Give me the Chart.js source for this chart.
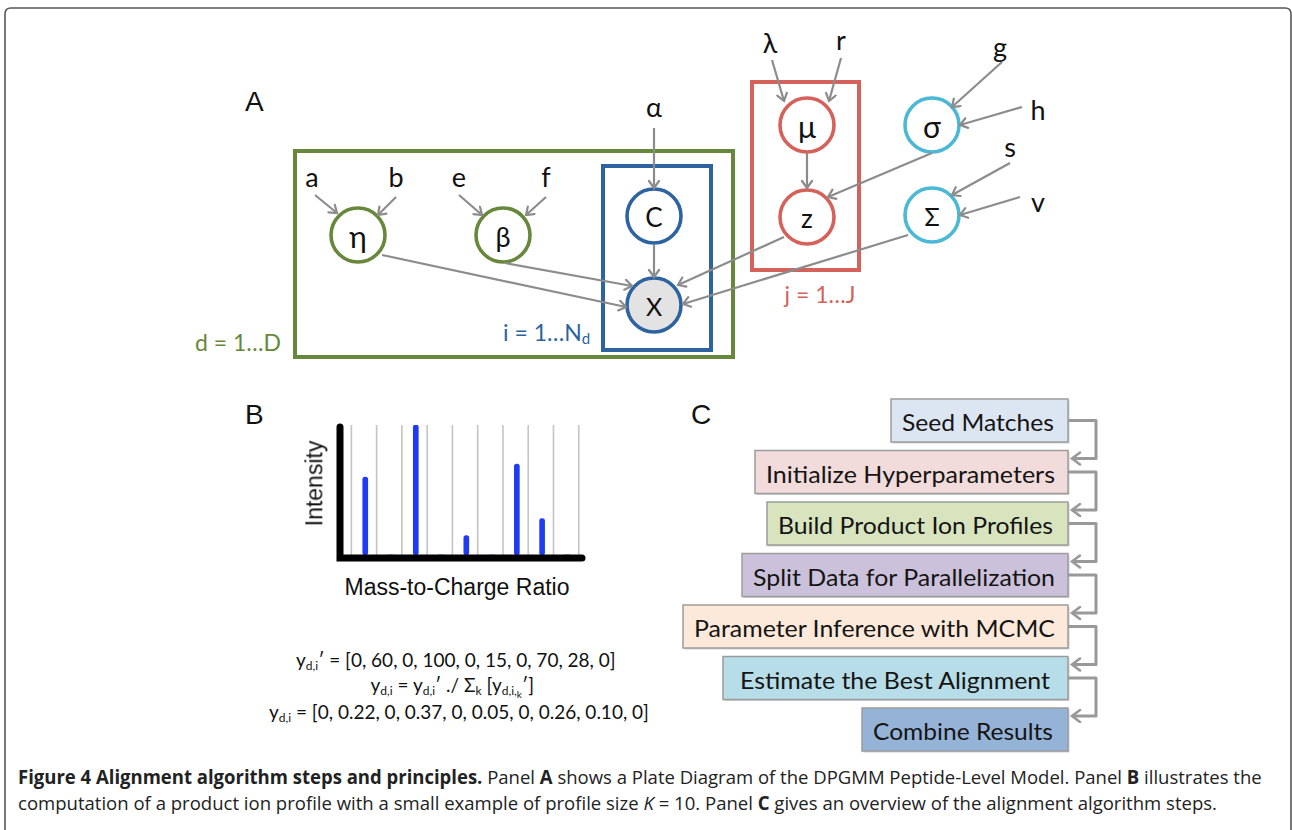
<!DOCTYPE html>
<html>
<head>
<meta charset="utf-8">
<title>Figure 4</title>
<script src="https://cdn.jsdelivr.net/npm/chart.js@4.4.0/dist/chart.umd.min.js"></script>
<style>
  html, body { margin: 0; padding: 0; background: #fff; }
  #page { position: relative; width: 1292px; height: 830px; overflow: hidden; background: #fff; }
  #diagram { position: absolute; left: 0; top: 0; }
  #profileChart { position: absolute; left: 290px; top: 400px; }
  .abs { position: absolute; white-space: nowrap; }
  .panel { font-family: "Liberation Sans", Arial, sans-serif; font-size: 28px; color: #111; }
  .axisTitle { font-family: "Liberation Sans", Arial, sans-serif; font-size: 23px; color: #111; }
  .eq { font-family: Lato, "Open Sans", sans-serif; font-size: 19px; color: #111; }
  .eq sub { font-size: 12px; vertical-align: -3px; }
  .eq sub sub { font-size: 10px; vertical-align: -3px; }
  .cap { font-family: "Open Sans", "Noto Sans", sans-serif; font-size: 19px; color: #222; transform-origin: left center; left: 18px; }
</style>
</head>
<body>
<div id="page">
  <svg id="diagram" width="1292" height="830"></svg>

  <div class="abs panel" style="left:245px; top:86px;">A</div>
  <div class="abs panel" style="left:245px; top:399px;">B</div>
  <div class="abs panel" style="left:691px; top:399px;">C</div>

  <canvas id="profileChart" width="310" height="170"></canvas>
  <div class="abs axisTitle" id="yTitle">Intensity</div>
  <div class="abs axisTitle" id="xTitle">Mass-to-Charge Ratio</div>

  <div class="abs eq" id="eq1"></div>
  <div class="abs eq" id="eq2"></div>
  <div class="abs eq" id="eq3"></div>

  <div class="abs cap" id="cap1" style="top:764px;"><b>Figure 4 Alignment algorithm steps and principles.</b> Panel <b>A</b> shows a Plate Diagram of the DPGMM Peptide-Level Model. Panel <b>B</b> illustrates the</div>
  <div class="abs cap" id="cap2" style="top:790px;">computation of a product ion profile with a small example of profile size <i>K</i> = 10. Panel <b>C</b> gives an overview of the alignment algorithm steps.</div>
</div>

<script>
// panel B data (profile bins k = 1..10)
const bins = ['1', '2', '3', '4', '5', '6', '7', '8', '9', '10'];
const rawIntensity = [0, 60, 0, 100, 0, 15, 0, 70, 28, 0];
const normIntensity = ['0', '0.22', '0', '0.37', '0', '0.05', '0', '0.26', '0.10', '0'];

// panel C steps
const steps = [
    'Seed Matches',
    'Initialize Hyperparameters',
    'Build Product Ion Profiles',
    'Split Data for Parallelization',
    'Parameter Inference with MCMC',
    'Estimate the Best Alignment',
    'Combine Results'
];
const stepColors = ['#dce6f2', '#f2dcdb', '#d7e4bd', '#ccc1da', '#fde9d9', '#b7dee8', '#95b3d7'];

const SVGNS = 'http://www.w3.org/2000/svg';
const svg = document.getElementById('diagram');

function el(name, attrs, text, parent) {
    const e = document.createElementNS(SVGNS, name);
    for (const k in attrs) e.setAttribute(k, attrs[k]);
    if (text !== undefined) e.textContent = text;
    (parent || svg).appendChild(e);
    return e;
}

function initDefs() {
    const defs = el('defs', {});
    // open chevron heads: small gray ones for panel A, larger for panel C
    [['head', '#8c8c8c', 2.2, 'M2,1 L9,6 L2,11', 9, 6],
     ['headC', '#999', 2.6, 'M2,1 L10,7 L2,13', 10, 7]].forEach(([id, col, w, d, rx, ry]) => {
        const m = el('marker', { id: id, markerUnits: 'userSpaceOnUse', markerWidth: 16, markerHeight: 16,
            refX: rx, refY: ry, orient: 'auto' }, undefined, defs);
        el('path', { d: d, fill: 'none', stroke: col, 'stroke-width': w, 'stroke-linecap': 'round' }, undefined, m);
    });
}

function drawFrame() {
    el('path', {
        d: 'M5,832 V14 Q5,8 11,8 H1285 Q1291,8 1291,14 V832',
        fill: 'none', stroke: '#555', 'stroke-width': 1.6
    });
}

function drawPlateDiagram() {
    const green = '#67873a', blue = '#2d63a0', red = '#d4625a', cyan = '#4bb8d6';
    const font = 'Lato, "Open Sans", sans-serif';

    el('rect', { x: 295, y: 151, width: 438, height: 206, fill: 'none', stroke: green, 'stroke-width': 4 });
    el('rect', { x: 603, y: 166, width: 108, height: 184, fill: 'none', stroke: blue, 'stroke-width': 4 });
    el('rect', { x: 752, y: 82, width: 107, height: 188, fill: 'none', stroke: red, 'stroke-width': 4 });

    const arrows = [
        [315, 195, 337, 213], [396, 197, 378, 215],
        [459, 195, 482, 215], [546, 197, 526, 215],
        [654, 128, 654, 188], [654, 245, 654, 277],
        [382, 255, 626, 307], [505, 263, 632, 286],
        [784, 237, 678, 285], [908, 235, 683, 304],
        [772, 60, 784, 101], [841, 58, 829, 101],
        [807, 153, 807, 188], [932, 153, 828, 197],
        [1002, 62, 952, 107], [1022, 107, 960, 125],
        [1010, 163, 952, 195], [1020, 197, 960, 215]
    ];

    // label, cx, cy, stroke, fill, font size
    const nodes = [
        ['η', 358, 235, green, '#fff', 30], ['β', 503, 235, green, '#fff', 27],
        ['C', 654, 216, blue, '#fff', 26], ['X', 654, 305, blue, '#e3e3e3', 25],
        ['μ', 807, 125, red, '#fff', 30], ['z', 807, 217, red, '#fff', 26],
        ['σ', 932, 125, cyan, '#fff', 30], ['Σ', 932, 215, cyan, '#fff', 25]
    ];
    nodes.forEach(n => {
        el('circle', { cx: n[1], cy: n[2], r: 27, fill: n[4], stroke: n[3], 'stroke-width': 3.6 });
        el('text', { x: n[1], y: n[2] + 1, 'text-anchor': 'middle', 'dominant-baseline': 'central',
            'font-family': font, 'font-size': n[5], fill: '#111' }, n[0]);
    });

    arrows.forEach(a => {
        el('line', { x1: a[0], y1: a[1], x2: a[2], y2: a[3], stroke: '#8c8c8c', 'stroke-width': 2.2, 'marker-end': 'url(#head)' });
    });

    const labels = [
        ['a', 312, 176], ['b', 396, 176], ['e', 459, 176], ['f', 546, 176],
        ['α', 654, 106], ['λ', 770, 42], ['r', 841, 39], ['g', 1000, 46],
        ['h', 1038, 109], ['s', 1010, 146], ['v', 1038, 201]
    ];
    labels.forEach(l => {
        el('text', { x: l[1], y: l[2], 'text-anchor': 'middle', 'dominant-baseline': 'central',
            'font-family': font, 'font-size': 27, fill: '#111' }, l[0]);
    });

    el('text', { x: 238, y: 342, 'text-anchor': 'middle', 'dominant-baseline': 'central',
        'font-family': font, 'font-size': 23, fill: green }, 'd = 1…D');
    const t = el('text', { x: 503, y: 332, 'dominant-baseline': 'central',
        'font-family': font, 'font-size': 23, fill: blue }, 'i = 1…N');
    el('tspan', { 'font-size': 15, dy: 6 }, 'd', t);
    el('text', { x: 820, y: 294, 'text-anchor': 'middle', 'dominant-baseline': 'central',
        'font-family': font, 'font-size': 23, fill: red }, 'j = 1…J');
}

function drawSteps() {
    const right = 1068, h = 43, gap = 51.5, top0 = 399;
    const lefts = [891, 755, 767, 742, 683, 723, 862];
    const textStart = [902, 766, 778, 753, 694, 740, 873];
    const textEnd = [1054, 1055, 1053, 1055, 1055, 1050, 1053];

    steps.forEach((s, i) => {
        const y = top0 + i * gap;
        el('rect', { x: lefts[i] + 1.5, y: y + 1.5, width: right - lefts[i], height: h, fill: '#d0d0d0' });
        el('rect', { x: lefts[i], y: y, width: right - lefts[i], height: h, fill: stepColors[i], stroke: '#9c9c9c', 'stroke-width': 1.5 });
        el('text', { x: textStart[i], y: y + h / 2 + 1, 'dominant-baseline': 'central',
            'font-family': 'Lato, "Open Sans", sans-serif', 'font-size': 24, fill: '#151515',
            textLength: textEnd[i] - textStart[i], lengthAdjust: 'spacingAndGlyphs' }, s);
    });

    for (let i = 0; i < steps.length - 1; i++) {
        const yOut = top0 + i * gap + h / 2;
        const yIn = top0 + (i + 1) * gap + 8;
        el('path', { d: `M${right},${yOut} H1096 V${yIn} H${right + 4}`,
            fill: 'none', stroke: '#999', 'stroke-width': 3, 'stroke-linejoin': 'round', 'marker-end': 'url(#headC)' });
    }
}

function placeCentered(id, cx, cy) {
    const d = document.getElementById(id);
    d.style.left = (cx - d.offsetWidth / 2) + 'px';
    d.style.top = (cy - d.offsetHeight / 2) + 'px';
    return d;
}

function writeEquations() {
    const yd = 'y<sub>d,i</sub>';
    document.getElementById('eq1').innerHTML = `${yd}′ = [${rawIntensity.join(', ')}]`;
    document.getElementById('eq2').innerHTML = `${yd} = ${yd}′ ./ Σ<sub>k</sub> [y<sub>d,i,<sub>k</sub></sub>′]`;
    document.getElementById('eq3').innerHTML = `${yd} = [${normIntensity.join(', ')}]`;
    placeCentered('eq1', 456, 660);
    placeCentered('eq2', 452, 686);
    placeCentered('eq3', 459, 712);
}

function placeAxisTitles() {
    placeCentered('yTitle', 315, 483).style.transform = 'rotate(-90deg)';
    placeCentered('xTitle', 457, 587);
}

function fitCaption() {
    // stretch each caption line to its width in the figure
    [['cap1', 1244], ['cap2', 1199]].forEach(([id, w]) => {
        const d = document.getElementById(id);
        d.style.transform = `scaleX(${w / d.offsetWidth})`;
    });
}

// gray guide lines between bins and the thick black axes
const profileAxes = {
    id: 'profileAxes',
    beforeDatasetsDraw(chart) {
        const { ctx, chartArea, scales: { x } } = chart;
        ctx.save();
        ctx.strokeStyle = '#c4c4c4';
        ctx.lineWidth = 1.6;
        for (let i = 0; i < bins.length; i++) {
            const px = x.getPixelForValue(i + 0.45);
            ctx.beginPath();
            ctx.moveTo(px, chartArea.top);
            ctx.lineTo(px, chartArea.bottom);
            ctx.stroke();
        }
        ctx.restore();
    },
    afterDatasetsDraw(chart) {
        const { ctx, chartArea, scales: { x, y } } = chart;
        const x0 = x.getPixelForValue(0);
        const y0 = y.getPixelForValue(0) + 3;
        ctx.save();
        ctx.strokeStyle = '#000';
        ctx.lineWidth = 7;
        ctx.lineCap = 'round';
        ctx.beginPath();
        ctx.moveTo(x0, chartArea.top + 2);
        ctx.lineTo(x0, y0);
        ctx.lineTo(chartArea.right + 2, y0);
        ctx.stroke();
        ctx.restore();
    }
};

function initProfileChart() {
    const ctx = document.getElementById('profileChart').getContext('2d');
    new Chart(ctx, {
        type: 'bar',
        data: {
            labels: bins,
            datasets: [{
                data: rawIntensity.map((v, i) => ({ x: i, y: v })),
                backgroundColor: '#1f3cf2',
                barThickness: 5,
                borderRadius: 3,
                borderSkipped: false
            }]
        },
        options: {
            responsive: false,
            animation: false,
            devicePixelRatio: 1,
            layout: { padding: { left: 50, right: 20, top: 25, bottom: 15 } },
            scales: {
                x: { type: 'linear', min: 0, max: 9.5, offset: false, display: false },
                y: { min: 0, max: 100, display: false }
            },
            plugins: {
                legend: { display: false },
                tooltip: { enabled: false }
            }
        },
        plugins: [profileAxes]
    });
}

initDefs();
drawFrame();
drawPlateDiagram();
drawSteps();
writeEquations();
placeAxisTitles();
fitCaption();
initProfileChart();
</script>
</body>
</html>
